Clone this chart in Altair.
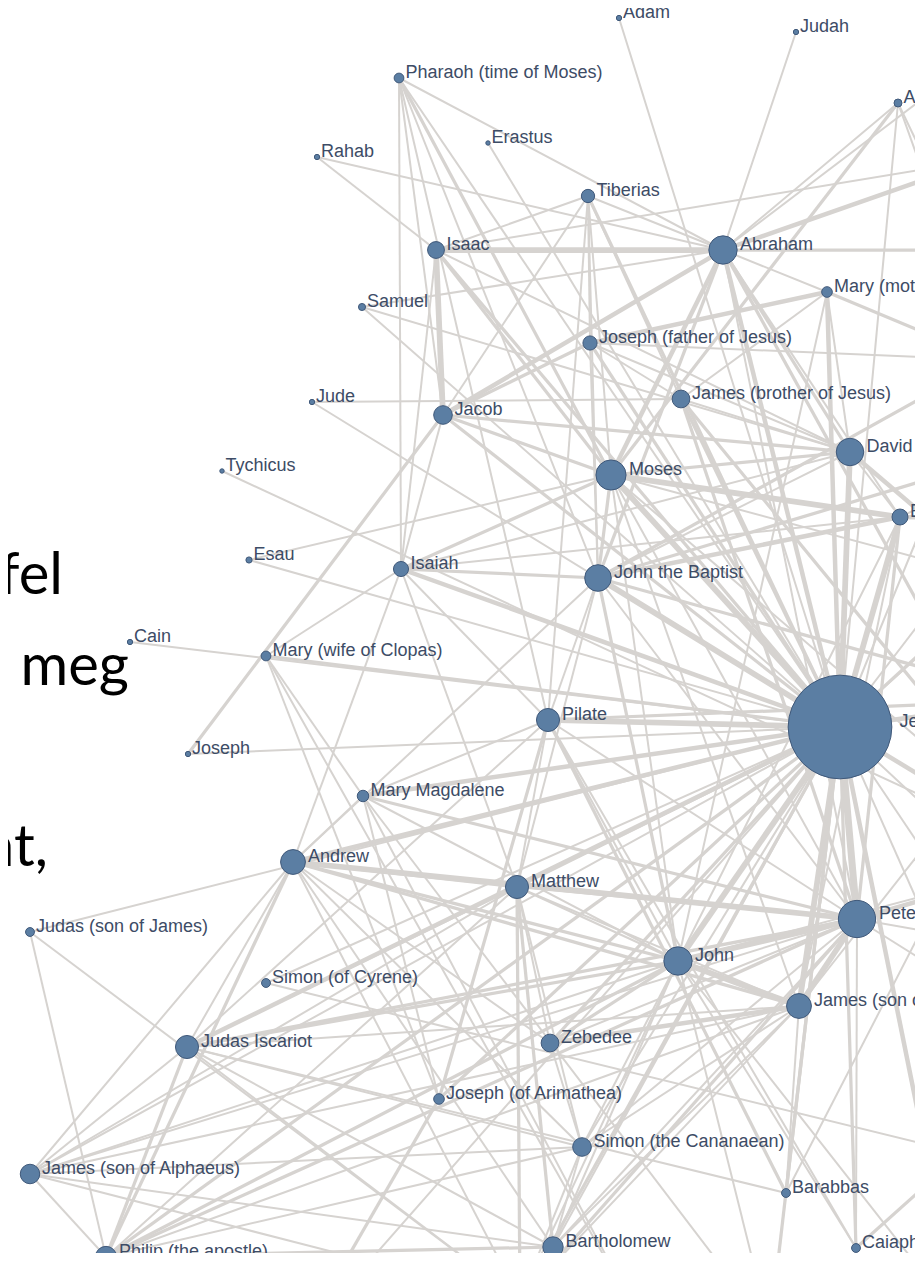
import altair as alt
import pandas as pd

# ---------------- data ----------------
node_key = ["Adam", "Judah", "Aaron", "Pharaoh", "Erastus", "Rahab", "Tiberias", "Isaac",
            "Abraham", "MaryM", "Samuel", "JosephF", "Jude", "Jacob", "JamesB", "David",
            "Tychicus", "Moses", "Elijah", "Esau", "Isaiah", "JohnB", "Cain", "MaryC",
            "Pilate", "Jesus", "Joseph", "MaryMag", "Andrew", "Matthew", "Peter", "JudasJ",
            "John", "SimonCy", "JamesZ", "JudasI", "Zebedee", "JosephA", "SimonC", "Barabbas",
            "JamesA", "Philip", "Bartholomew", "Caiaphas",
            "Thomas", "Paul", "Herod", "Elizabeth", "Zechariah", "Solomon", "Sarah", "Lot",
            "Noah", "Elisha", "Annas", "Alexander", "Barnabas", "Timothy", "Martha",
            "Lazarus", "Nicodemus", "Salome"]
node_label = ["Adam", "Judah", "Aaron", "Pharaoh (time of Moses)", "Erastus", "Rahab",
              "Tiberias", "Isaac", "Abraham", "Mary (mother of Jesus)", "Samuel",
              "Joseph (father of Jesus)", "Jude", "Jacob", "James (brother of Jesus)", "David",
              "Tychicus", "Moses", "Elijah", "Esau", "Isaiah", "John the Baptist", "Cain",
              "Mary (wife of Clopas)", "Pilate", "Jesus", "Joseph", "Mary Magdalene", "Andrew",
              "Matthew", "Peter", "Judas (son of James)", "John", "Simon (of Cyrene)",
              "James (son of Zebedee)", "Judas Iscariot", "Zebedee", "Joseph (of Arimathea)",
              "Simon (the Cananaean)", "Barabbas", "James (son of Alphaeus)",
              "Philip (the apostle)", "Bartholomew", "Caiaphas",
              "Thomas", "Paul", "Herod", "Elizabeth", "Zechariah", "Solomon", "Sarah", "Lot",
              "Noah", "Elisha", "Annas", "Alexander", "Barnabas", "Timothy", "Martha",
              "Lazarus", "Nicodemus", "Salome"]
node_x = [619, 796, 898, 399, 488, 317, 588, 436, 723, 827, 362, 590, 312, 443, 681, 850,
          222, 611, 900, 249, 401, 598, 130, 266, 548, 840, 188, 363, 293, 517, 857, 30,
          678, 266, 799, 187, 550, 439, 582, 786, 30, 106, 553, 856,
          520, 1060, 1040, 990, 1060, 1000, 980, 1040, 1000, 1070, 1010, 990, 1090, 1050,
          770, 960, 300, 640]
node_y = [18, 32, 103, 78, 143, 157, 196, 250, 250, 292, 307, 343, 402, 415, 399, 452,
          471, 475, 517, 560, 569, 578, 642, 656, 720, 727, 754, 796, 862, 887, 919, 932,
          961, 983, 1006, 1047, 1043, 1099, 1147, 1193, 1174, 1257, 1247, 1248,
          1300, 860, 700, 360, 440, 580, 160, 250, 40, 520, 1110, 1160, 960, 1040,
          1330, 1320, 1340, 1320]
node_r = [3, 3, 4.5, 5.5, 2.5, 3, 7.5, 9.5, 16, 6, 4, 8, 3, 10.5, 10, 15.5,
          2.5, 17, 9, 3.5, 8.5, 15, 3, 5.5, 13, 58.5, 3, 6.5, 14, 13, 21, 5,
          16, 5, 14, 13, 10, 6, 10.5, 5, 11, 12, 11.5, 5,
          10, 25, 13, 7, 8, 10, 8, 6, 5, 6, 5, 3, 10, 9, 6, 8, 5, 4]

edge_source = []
edge_target = []
edge_weight = []

edge_groups = {
    "Jesus": [("Peter", 5), ("John", 4), ("JamesZ", 4), ("Moses", 4), ("JohnB", 4),
              ("Abraham", 3), ("David", 4), ("Pilate", 4), ("Andrew", 3), ("JudasI", 3),
              ("Matthew", 2), ("MaryMag", 3), ("Elijah", 4), ("Isaiah", 3), ("JosephF", 2),
              ("MaryM", 3), ("JamesB", 2), ("Philip", 2), ("Bartholomew", 1), ("SimonC", 1),
              ("JamesA", 1), ("JudasJ", 1), ("Thomas", 2), ("Zebedee", 2), ("MaryC", 2),
              ("JosephA", 2), ("SimonCy", 1), ("Barabbas", 2), ("Caiaphas", 2), ("Herod", 3),
              ("Paul", 3), ("Adam", 1), ("Jacob", 2), ("Isaac", 2), ("Cain", 1), ("Esau", 1),
              ("Joseph", 1), ("Jude", 1), ("Erastus", 1), ("Tiberias", 2), ("Samuel", 1),
              ("Aaron", 1), ("Pharaoh", 1), ("Lazarus", 3), ("Martha", 2), ("Nicodemus", 1),
              ("Solomon", 2), ("Elisha", 1), ("Zechariah", 1), ("Elizabeth", 1), ("Annas", 1),
              ("Barnabas", 1), ("Timothy", 1)],
    "Peter": [("John", 4), ("JamesZ", 4), ("Andrew", 4), ("Matthew", 1), ("Philip", 2),
              ("Bartholomew", 1), ("Thomas", 2), ("JamesA", 1), ("SimonC", 1), ("JudasI", 2),
              ("Zebedee", 1), ("MaryMag", 2), ("Pilate", 1), ("Caiaphas", 1), ("Paul", 3),
              ("Barnabas", 1), ("JamesB", 2), ("JohnB", 1), ("Moses", 1), ("Elijah", 2),
              ("Abraham", 1), ("Timothy", 1)],
    "John": [("JamesZ", 4), ("Andrew", 2), ("Philip", 2), ("Zebedee", 2), ("Matthew", 1),
             ("Bartholomew", 1), ("Thomas", 1), ("JamesA", 1), ("SimonC", 1), ("JudasI", 2),
             ("Caiaphas", 1), ("Pilate", 1), ("MaryMag", 1), ("Moses", 1), ("JohnB", 2),
             ("Elijah", 1), ("Paul", 1), ("MaryM", 1), ("Lazarus", 1), ("Martha", 1)],
    "JamesZ": [("Andrew", 2), ("Zebedee", 3), ("Philip", 1), ("Matthew", 1),
               ("Bartholomew", 1), ("Thomas", 1), ("JamesA", 1), ("SimonC", 1), ("JudasI", 1),
               ("Barabbas", 1), ("Elijah", 1), ("Moses", 1), ("Herod", 1)],
    "Andrew": [("Philip", 2), ("Matthew", 2), ("Bartholomew", 1), ("Thomas", 1), ("JamesA", 1),
               ("SimonC", 1), ("JudasI", 1), ("JohnB", 1), ("Zebedee", 1), ("MaryMag", 1),
               ("Isaiah", 1)],
    "Matthew": [("Philip", 1), ("Bartholomew", 2), ("Thomas", 2), ("JamesA", 1), ("SimonC", 1),
                ("JudasI", 1), ("Pilate", 1), ("JohnB", 1), ("Zebedee", 1), ("Isaiah", 1)],
    "Philip": [("Bartholomew", 2), ("Thomas", 1), ("JamesA", 1), ("SimonC", 1), ("JudasJ", 1),
               ("JudasI", 2)],
    "Bartholomew": [("Thomas", 1), ("JamesA", 1), ("SimonC", 1), ("JudasI", 1)],
    "Thomas": [("JamesA", 1), ("SimonC", 1), ("JudasJ", 1), ("JudasI", 1)],
    "JamesA": [("SimonC", 1), ("JudasI", 1)],
    "SimonC": [("JudasI", 1), ("Zebedee", 1)],
    "Pilate": [("Barabbas", 2), ("Caiaphas", 1), ("Herod", 2), ("JudasI", 1), ("JosephA", 2),
               ("MaryMag", 1), ("JohnB", 1), ("Isaiah", 1), ("Tiberias", 1), ("Pharaoh", 1)],
    "Caiaphas": [("Annas", 2)],
    "JosephA": [("Nicodemus", 2), ("MaryMag", 1), ("MaryC", 1)],
    "MaryMag": [("MaryC", 1), ("Salome", 1), ("Martha", 1)],
    "MaryC": [("Salome", 1)],
    "SimonCy": [("Alexander", 1)],
    "Barabbas": [("JudasI", 1), ("Herod", 1)],
    "Abraham": [("Isaac", 4), ("Jacob", 3), ("Moses", 3), ("David", 2), ("Sarah", 3),
                ("Lot", 2), ("Judah", 1), ("Aaron", 1), ("Pharaoh", 1), ("Rahab", 1),
                ("Samuel", 1), ("Tiberias", 1), ("JohnB", 2), ("Noah", 1), ("Paul", 2),
                ("Elijah", 1), ("MaryM", 1)],
    "Isaac": [("Jacob", 4), ("Moses", 2), ("Rahab", 1), ("Tiberias", 1), ("Sarah", 1),
              ("David", 1), ("Isaiah", 1)],
    "Jacob": [("Moses", 2), ("David", 2), ("JosephF", 2), ("Joseph", 2), ("Pharaoh", 1),
              ("Tiberias", 1), ("Isaiah", 1)],
    "Moses": [("Elijah", 4), ("Aaron", 2), ("Pharaoh", 2), ("David", 2), ("Isaiah", 2),
              ("JohnB", 2), ("Tiberias", 1), ("Paul", 1), ("Solomon", 1), ("Esau", 1)],
    "David": [("Samuel", 1), ("Solomon", 3), ("Isaiah", 1), ("JohnB", 1), ("MaryM", 1),
              ("JosephF", 1), ("Elijah", 1), ("JamesB", 1)],
    "Elijah": [("JohnB", 3), ("Elisha", 3), ("Isaiah", 1), ("Zechariah", 1)],
    "JohnB": [("Isaiah", 2), ("Zechariah", 2), ("Elizabeth", 2), ("Herod", 2), ("JosephF", 1),
              ("Pharaoh", 1), ("Tiberias", 1)],
    "JosephF": [("MaryM", 3), ("Tiberias", 1), ("JamesB", 1), ("Elizabeth", 1)],
    "MaryM": [("Elizabeth", 2), ("JamesB", 1)],
    "JamesB": [("Jude", 1), ("Paul", 2), ("Tiberias", 1)],
    "Tychicus": [("Paul", 1)],
    "Aaron": [("Zechariah", 1), ("Elizabeth", 1)],
    "Isaiah": [("MaryC", 1), ("Pharaoh", 1)],
    "Paul": [("Barnabas", 2), ("Timothy", 2)],
}
for src, targets in edge_groups.items():
    for tgt, w in targets:
        edge_source.append(src)
        edge_target.append(tgt)
        edge_weight.append(w)

# slide text fragments behind the network (left edge)
slide_words = ["fel", "k meg", "at,"]
slide_right = [63, 129, 48]
slide_base = [594, 685, 866]

# ---------------- tables ----------------
nodes = pd.DataFrame({"key": node_key, "label": node_label, "x": node_x, "y": node_y,
                      "r": node_r})
pos = nodes.set_index("key")
edges = pd.DataFrame({"s": edge_source, "t": edge_target, "w": edge_weight})
edges["x"] = edges["s"].map(pos["x"])
edges["y"] = edges["s"].map(pos["y"])
edges["x2"] = edges["t"].map(pos["x"])
edges["y2"] = edges["t"].map(pos["y"])
slide = pd.DataFrame({"word": slide_words, "x": slide_right, "y": slide_base})

W, H = 907, 1245
xs = alt.Scale(domain=[8, 8 + W], nice=False, zero=False)
ys = alt.Scale(domain=[8, 8 + H], nice=False, zero=False, reverse=True)

edge_layer = alt.Chart(edges).mark_rule(color="#d6d3d0", clip=True).encode(
    x=alt.X("x:Q", scale=xs, axis=None),
    y=alt.Y("y:Q", scale=ys, axis=None),
    x2="x2:Q",
    y2="y2:Q",
    strokeWidth=alt.StrokeWidth("w:Q", scale=alt.Scale(domain=[1, 5], range=[2.0, 7.0]),
                                legend=None),
)

node_layer = alt.Chart(nodes).mark_circle(
    fill="#5b7ea3", stroke="#40597a", strokeWidth=1, opacity=1, clip=True
).encode(
    x=alt.X("x:Q", scale=xs, axis=None),
    y=alt.Y("y:Q", scale=ys, axis=None),
    size=alt.Size("r:Q", scale=alt.Scale(type="pow", exponent=2, domain=[0, 60],
                                         range=[0, 11310]), legend=None),
)

label_layer = alt.Chart(nodes).transform_calculate(
    lx="datum.x + datum.r + 1"
).mark_text(
    align="left", baseline="alphabetic", font="Liberation Sans", fontSize=18,
    color="#3d4c66", clip=True
).encode(
    x=alt.X("lx:Q", scale=xs, axis=None),
    y=alt.Y("y:Q", scale=ys, axis=None),
    text="label:N",
)

slide_layer = alt.Chart(slide).mark_text(
    align="right", baseline="alphabetic", font="Lato", fontSize=58, color="#000000",
    clip=True
).encode(
    x=alt.X("x:Q", scale=xs, axis=None),
    y=alt.Y("y:Q", scale=ys, axis=None),
    text="word:N",
)

chart = alt.layer(slide_layer, edge_layer, node_layer, label_layer).properties(
    width=W, height=H, padding=0, background="#ffffff"
).configure_view(strokeWidth=0)

chart.save("out.html", embed_options={"renderer": "svg", "actions": False})
